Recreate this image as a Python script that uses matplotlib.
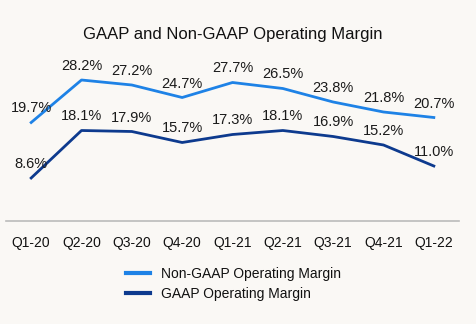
import matplotlib
matplotlib.use("Agg")
import matplotlib.pyplot as plt

quarters = ["Q1-20", "Q2-20", "Q3-20", "Q4-20", "Q1-21", "Q2-21", "Q3-21", "Q4-21", "Q1-22"]
non_gaap = [19.7, 28.2, 27.2, 24.7, 27.7, 26.5, 23.8, 21.8, 20.7]
gaap = [8.6, 18.1, 17.9, 15.7, 17.3, 18.1, 16.9, 15.2, 11.0]

bg = "#FAF8F5"
c_light = "#1E82E6"
c_dark = "#0D3A8E"
plt.rcParams['font.family'] = ['Liberation Sans', 'DejaVu Sans']

W, H = 476, 324
fig = plt.figure(figsize=(W / 100, H / 100), dpi=100, facecolor=bg)
ax = fig.add_axes([6 / W, (H - 221) / H, (459 - 6) / W, 32 * 5 / H])
ax.set_facecolor(bg)
x = list(range(len(quarters)))
l1, = ax.plot(x, non_gaap, color=c_light, lw=2, label="Non-GAAP Operating Margin")
l2, = ax.plot(x, gaap, color=c_dark, lw=2, label="GAAP Operating Margin")
for xi, v in zip(x, non_gaap):
    ax.annotate(f"{v:.1f}%", (xi, v), xytext=(0, 7), textcoords="offset pixels",
                ha="center", va="bottom", fontsize=10.5, color="#1a1a1a")
for xi, v in zip(x, gaap):
    ax.annotate(f"{v:.1f}%", (xi, v), xytext=(0, 7), textcoords="offset pixels",
                ha="center", va="bottom", fontsize=10.5, color="#1a1a1a")
ax.set_xlim(-0.5, 8.5)
ax.set_ylim(0, 32)
ax.set_yticks([])
ax.set_xticks(x)
ax.set_xticklabels(quarters, fontsize=10, color="#111111")
ax.tick_params(axis="x", length=0, pad=11)
for s in ["top", "right", "left"]:
    ax.spines[s].set_visible(False)
ax.spines["bottom"].set_color("#BBBBBB")
ax.spines["bottom"].set_linewidth(1.2)

fig.text(233 / W, 1 - 34 / H, "GAAP and Non-GAAP Operating Margin", ha="center", va="center",
         fontsize=12, color="#111111")

leg = fig.legend(handles=[l1, l2], loc="upper left", bbox_to_anchor=(126 / W, 1 - 267 / H),
                 frameon=False, fontsize=10, handlelength=1.7, handletextpad=0.8,
                 labelspacing=0.4, borderpad=0, borderaxespad=0)
for h in leg.get_lines():
    h.set_linewidth(3)
for t in leg.get_texts():
    t.set_color("#111111")

fig.savefig("out.png", dpi=100, facecolor=bg)
